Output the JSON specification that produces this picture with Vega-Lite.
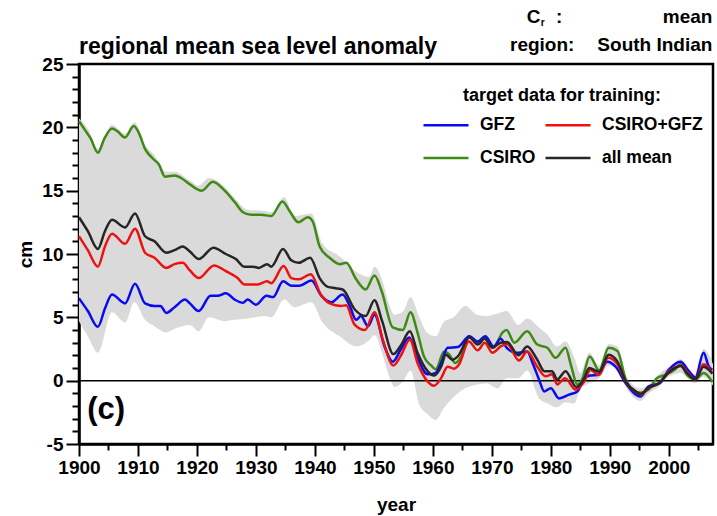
{
  "$schema": "https://vega.github.io/schema/vega-lite/v6.json",
  "width": 634,
  "height": 380,
  "autosize": {"type": "none"},
  "padding": {"left": 79, "top": 64, "right": 4, "bottom": 72},
  "background": "white",
  "config": {
    "font": "Liberation Sans",
    "view": {"stroke": "black", "strokeWidth": 2.5},
    "axis": {"domainColor": "black", "domainWidth": 2.5, "tickColor": "black", "tickWidth": 2, "labelColor": "black", "labelFontSize": 19, "labelFontWeight": "bold", "titleFontSize": 19, "titleFontWeight": "bold", "titleColor": "black", "grid": false, "labelFont": "Liberation Sans", "titleFont": "Liberation Sans", "labelOverlap": false}
  },
  "title": {"text": "regional mean sea level anomaly", "anchor": "start", "frame": "group", "fontSize": 23, "fontWeight": "bold", "color": "black", "font": "Liberation Sans", "baseline": "alphabetic", "offset": 12, "dy": 81},
  "resolve": {"axis": {"x": "independent", "y": "independent"}},
  "datasets": {
    "band": [
      {"year": 1900, "lo": 4.7, "hi": 20.7},
      {"year": 1901.5, "lo": 3.5, "hi": 19.9},
      {"year": 1903.2, "lo": 2.2, "hi": 18.3},
      {"year": 1905.6, "lo": 5.4, "hi": 20.2},
      {"year": 1907.8, "lo": 4.6, "hi": 19.5},
      {"year": 1909.4, "lo": 6.2, "hi": 20.4},
      {"year": 1911.2, "lo": 4.8, "hi": 18.6},
      {"year": 1912.8, "lo": 4.3, "hi": 17.8},
      {"year": 1914.8, "lo": 3.8, "hi": 16.5},
      {"year": 1916.2, "lo": 4.1, "hi": 16.5},
      {"year": 1918.8, "lo": 4.4, "hi": 15.8},
      {"year": 1920.3, "lo": 3.9, "hi": 15.4},
      {"year": 1922.0, "lo": 5.0, "hi": 16.0},
      {"year": 1924.7, "lo": 4.7, "hi": 15.3},
      {"year": 1926.4, "lo": 4.8, "hi": 14.4},
      {"year": 1928.6, "lo": 4.9, "hi": 13.5},
      {"year": 1931.5, "lo": 5.1, "hi": 13.4},
      {"year": 1932.6, "lo": 5.0, "hi": 13.3},
      {"year": 1934.8, "lo": 6.4, "hi": 14.5},
      {"year": 1936.5, "lo": 5.8, "hi": 13.0},
      {"year": 1939.4, "lo": 6.2, "hi": 13.2},
      {"year": 1941.3, "lo": 4.6, "hi": 10.8},
      {"year": 1944.2, "lo": 3.5, "hi": 9.8},
      {"year": 1947.0, "lo": 2.7, "hi": 8.6},
      {"year": 1949.2, "lo": 3.2, "hi": 8.2},
      {"year": 1950.1, "lo": 3.6, "hi": 9.0},
      {"year": 1951.5, "lo": 2.0, "hi": 7.8},
      {"year": 1952.6, "lo": 0.35, "hi": 6.0},
      {"year": 1953.5, "lo": -0.5, "hi": 5.2},
      {"year": 1955.0, "lo": 0.0, "hi": 5.5},
      {"year": 1956.2, "lo": 0.8, "hi": 6.6},
      {"year": 1957.7, "lo": -1.9, "hi": 5.0},
      {"year": 1959.0, "lo": -2.6, "hi": 3.8},
      {"year": 1960.5, "lo": -3.1, "hi": 3.5},
      {"year": 1961.8, "lo": -2.2, "hi": 4.6},
      {"year": 1963.5, "lo": -1.3, "hi": 5.0},
      {"year": 1965.5, "lo": -0.6, "hi": 5.9},
      {"year": 1967.5, "lo": -0.3, "hi": 5.2},
      {"year": 1969.0, "lo": -0.2, "hi": 5.1},
      {"year": 1971.0, "lo": -0.6, "hi": 5.3},
      {"year": 1972.5, "lo": 0.2, "hi": 5.5},
      {"year": 1974.5, "lo": 0.2, "hi": 4.4},
      {"year": 1976.0, "lo": 0.8, "hi": 4.9},
      {"year": 1978.0, "lo": -1.4, "hi": 4.2},
      {"year": 1979.5, "lo": -1.8, "hi": 3.6},
      {"year": 1981.0, "lo": -2.1, "hi": 2.7},
      {"year": 1982.5, "lo": -1.7, "hi": 3.1},
      {"year": 1984.0, "lo": -1.8, "hi": 1.8},
      {"year": 1985.0, "lo": -0.6, "hi": 0.6},
      {"year": 1986.5, "lo": -0.2, "hi": 2.2},
      {"year": 1988.2, "lo": 0.2, "hi": 1.2},
      {"year": 1989.8, "lo": 1.2, "hi": 2.9},
      {"year": 1991.3, "lo": 0.8, "hi": 2.7},
      {"year": 1992.7, "lo": -0.5, "hi": 0.4},
      {"year": 1995.2, "lo": -1.6, "hi": -0.6},
      {"year": 1996.6, "lo": -1.0, "hi": -0.3},
      {"year": 1998.3, "lo": -0.5, "hi": 0.5},
      {"year": 2000.0, "lo": 0.3, "hi": 1.1},
      {"year": 2002.0, "lo": 0.6, "hi": 1.7},
      {"year": 2003.4, "lo": 0.1, "hi": 1.0},
      {"year": 2004.5, "lo": -0.2, "hi": 0.5},
      {"year": 2005.9, "lo": 0.3, "hi": 2.5},
      {"year": 2007.5, "lo": -0.4, "hi": 1.3}
    ],
    "lines": [
      {"series": "CSIRO", "year": 1900.0, "cm": 20.5},
      {"series": "CSIRO", "year": 1901.0, "cm": 19.8},
      {"series": "CSIRO", "year": 1902.0, "cm": 19.1},
      {"series": "CSIRO", "year": 1903.2, "cm": 18.0},
      {"series": "CSIRO", "year": 1904.3, "cm": 19.1},
      {"series": "CSIRO", "year": 1905.6, "cm": 19.9},
      {"series": "CSIRO", "year": 1906.5, "cm": 19.7},
      {"series": "CSIRO", "year": 1907.8, "cm": 19.2},
      {"series": "CSIRO", "year": 1909.3, "cm": 20.1},
      {"series": "CSIRO", "year": 1910.2, "cm": 19.5},
      {"series": "CSIRO", "year": 1911.2, "cm": 18.3},
      {"series": "CSIRO", "year": 1912.6, "cm": 17.5},
      {"series": "CSIRO", "year": 1913.5, "cm": 17.1},
      {"series": "CSIRO", "year": 1914.6, "cm": 16.1},
      {"series": "CSIRO", "year": 1916.2, "cm": 16.2},
      {"series": "CSIRO", "year": 1917.3, "cm": 16.0},
      {"series": "CSIRO", "year": 1918.8, "cm": 15.5},
      {"series": "CSIRO", "year": 1920.8, "cm": 15.0},
      {"series": "CSIRO", "year": 1922.7, "cm": 15.7},
      {"series": "CSIRO", "year": 1924.7, "cm": 15.0},
      {"series": "CSIRO", "year": 1926.4, "cm": 14.1},
      {"series": "CSIRO", "year": 1927.8, "cm": 13.3},
      {"series": "CSIRO", "year": 1929.2, "cm": 13.1},
      {"series": "CSIRO", "year": 1930.9, "cm": 13.1},
      {"series": "CSIRO", "year": 1932.6, "cm": 13.0},
      {"series": "CSIRO", "year": 1934.5, "cm": 14.15},
      {"series": "CSIRO", "year": 1935.7, "cm": 13.4},
      {"series": "CSIRO", "year": 1937.2, "cm": 12.5},
      {"series": "CSIRO", "year": 1938.8, "cm": 12.9},
      {"series": "CSIRO", "year": 1939.6, "cm": 12.6},
      {"series": "CSIRO", "year": 1940.8, "cm": 10.6},
      {"series": "CSIRO", "year": 1942.5, "cm": 9.7},
      {"series": "CSIRO", "year": 1944.2, "cm": 9.2},
      {"series": "CSIRO", "year": 1945.3, "cm": 9.3},
      {"series": "CSIRO", "year": 1947.0, "cm": 8.0},
      {"series": "CSIRO", "year": 1948.6, "cm": 7.2},
      {"series": "CSIRO", "year": 1950.1, "cm": 8.3},
      {"series": "CSIRO", "year": 1951.3, "cm": 7.1},
      {"series": "CSIRO", "year": 1953.2, "cm": 4.2},
      {"series": "CSIRO", "year": 1954.9, "cm": 4.0},
      {"series": "CSIRO", "year": 1956.2, "cm": 5.4},
      {"series": "CSIRO", "year": 1957.4, "cm": 3.8},
      {"series": "CSIRO", "year": 1958.5, "cm": 1.9},
      {"series": "CSIRO", "year": 1959.7, "cm": 1.2},
      {"series": "CSIRO", "year": 1960.5, "cm": 0.9},
      {"series": "CSIRO", "year": 1961.9, "cm": 2.3},
      {"series": "CSIRO", "year": 1962.8, "cm": 2.05},
      {"series": "CSIRO", "year": 1963.8, "cm": 1.4},
      {"series": "CSIRO", "year": 1964.8, "cm": 1.9},
      {"series": "CSIRO", "year": 1966.1, "cm": 3.5},
      {"series": "CSIRO", "year": 1967.6, "cm": 3.0},
      {"series": "CSIRO", "year": 1968.8, "cm": 3.45},
      {"series": "CSIRO", "year": 1970.3, "cm": 2.6},
      {"series": "CSIRO", "year": 1971.8, "cm": 3.8},
      {"series": "CSIRO", "year": 1972.5, "cm": 4.0},
      {"series": "CSIRO", "year": 1973.8, "cm": 3.0},
      {"series": "CSIRO", "year": 1976.0, "cm": 3.9},
      {"series": "CSIRO", "year": 1977.7, "cm": 2.85},
      {"series": "CSIRO", "year": 1979.4, "cm": 2.6},
      {"series": "CSIRO", "year": 1980.8, "cm": 1.8},
      {"series": "CSIRO", "year": 1982.5, "cm": 2.6},
      {"series": "CSIRO", "year": 1983.4, "cm": 1.25},
      {"series": "CSIRO", "year": 1984.5, "cm": -0.3},
      {"series": "CSIRO", "year": 1985.3, "cm": 0.1},
      {"series": "CSIRO", "year": 1986.6, "cm": 1.9},
      {"series": "CSIRO", "year": 1988.2, "cm": 0.8},
      {"series": "CSIRO", "year": 1989.8, "cm": 2.6},
      {"series": "CSIRO", "year": 1991.3, "cm": 2.35},
      {"series": "CSIRO", "year": 1992.7, "cm": 0.1},
      {"series": "CSIRO", "year": 1993.8, "cm": -0.7},
      {"series": "CSIRO", "year": 1995.2, "cm": -0.95},
      {"series": "CSIRO", "year": 1996.6, "cm": -0.7},
      {"series": "CSIRO", "year": 1998.0, "cm": 0.2},
      {"series": "CSIRO", "year": 1999.4, "cm": 0.45},
      {"series": "CSIRO", "year": 2001.1, "cm": 0.9},
      {"series": "CSIRO", "year": 2002.0, "cm": 1.3},
      {"series": "CSIRO", "year": 2003.1, "cm": 0.45},
      {"series": "CSIRO", "year": 2004.5, "cm": 0.1},
      {"series": "CSIRO", "year": 2005.9, "cm": 0.6},
      {"series": "CSIRO", "year": 2007.4, "cm": -0.1},

      {"series": "GFZ", "year": 1900.0, "cm": 6.5},
      {"series": "GFZ", "year": 1901.5, "cm": 5.5},
      {"series": "GFZ", "year": 1903.2, "cm": 4.25},
      {"series": "GFZ", "year": 1904.4, "cm": 5.7},
      {"series": "GFZ", "year": 1905.6, "cm": 6.8},
      {"series": "GFZ", "year": 1907.8, "cm": 6.1},
      {"series": "GFZ", "year": 1909.5, "cm": 7.65},
      {"series": "GFZ", "year": 1911.2, "cm": 6.1},
      {"series": "GFZ", "year": 1912.8, "cm": 5.9},
      {"series": "GFZ", "year": 1913.8, "cm": 5.9},
      {"series": "GFZ", "year": 1914.8, "cm": 5.35},
      {"series": "GFZ", "year": 1916.2, "cm": 5.8},
      {"series": "GFZ", "year": 1918.0, "cm": 6.4},
      {"series": "GFZ", "year": 1918.8, "cm": 6.1},
      {"series": "GFZ", "year": 1920.3, "cm": 5.5},
      {"series": "GFZ", "year": 1922.3, "cm": 6.7},
      {"series": "GFZ", "year": 1923.5, "cm": 6.7},
      {"series": "GFZ", "year": 1924.9, "cm": 6.9},
      {"series": "GFZ", "year": 1926.4, "cm": 6.4},
      {"series": "GFZ", "year": 1927.8, "cm": 6.15},
      {"series": "GFZ", "year": 1928.6, "cm": 6.4},
      {"series": "GFZ", "year": 1930.0, "cm": 6.0},
      {"series": "GFZ", "year": 1931.8, "cm": 6.7},
      {"series": "GFZ", "year": 1932.9, "cm": 6.6},
      {"series": "GFZ", "year": 1934.6, "cm": 7.85},
      {"series": "GFZ", "year": 1936.0, "cm": 7.5},
      {"series": "GFZ", "year": 1937.4, "cm": 7.5},
      {"series": "GFZ", "year": 1939.4, "cm": 7.9},
      {"series": "GFZ", "year": 1941.1, "cm": 6.7},
      {"series": "GFZ", "year": 1942.8, "cm": 6.2},
      {"series": "GFZ", "year": 1944.7, "cm": 6.8},
      {"series": "GFZ", "year": 1945.9, "cm": 5.9},
      {"series": "GFZ", "year": 1947.0, "cm": 4.8},
      {"series": "GFZ", "year": 1947.8, "cm": 5.1},
      {"series": "GFZ", "year": 1949.0, "cm": 4.3},
      {"series": "GFZ", "year": 1950.1, "cm": 5.2},
      {"series": "GFZ", "year": 1951.8, "cm": 2.7},
      {"series": "GFZ", "year": 1953.2, "cm": 1.5},
      {"series": "GFZ", "year": 1954.6, "cm": 2.5},
      {"series": "GFZ", "year": 1956.0, "cm": 3.4},
      {"series": "GFZ", "year": 1957.4, "cm": 1.8},
      {"series": "GFZ", "year": 1959.1, "cm": 0.5},
      {"series": "GFZ", "year": 1960.4, "cm": 0.6},
      {"series": "GFZ", "year": 1961.4, "cm": 1.4},
      {"series": "GFZ", "year": 1962.5, "cm": 2.6},
      {"series": "GFZ", "year": 1964.2, "cm": 2.65},
      {"series": "GFZ", "year": 1966.2, "cm": 3.5},
      {"series": "GFZ", "year": 1967.6, "cm": 3.1},
      {"series": "GFZ", "year": 1968.9, "cm": 3.5},
      {"series": "GFZ", "year": 1970.3, "cm": 2.7},
      {"series": "GFZ", "year": 1971.5, "cm": 3.3},
      {"series": "GFZ", "year": 1972.5, "cm": 2.6},
      {"series": "GFZ", "year": 1974.2, "cm": 2.2},
      {"series": "GFZ", "year": 1976.0, "cm": 2.3},
      {"series": "GFZ", "year": 1976.9, "cm": 1.4},
      {"series": "GFZ", "year": 1978.0, "cm": 0.1},
      {"series": "GFZ", "year": 1978.9, "cm": -0.85},
      {"series": "GFZ", "year": 1980.0, "cm": -0.6},
      {"series": "GFZ", "year": 1981.4, "cm": -1.4},
      {"series": "GFZ", "year": 1983.1, "cm": -1.1},
      {"series": "GFZ", "year": 1984.5, "cm": -0.85},
      {"series": "GFZ", "year": 1985.6, "cm": 0.1},
      {"series": "GFZ", "year": 1986.6, "cm": 0.4},
      {"series": "GFZ", "year": 1987.9, "cm": 0.45},
      {"series": "GFZ", "year": 1989.6, "cm": 1.5},
      {"series": "GFZ", "year": 1991.0, "cm": 1.1},
      {"series": "GFZ", "year": 1992.7, "cm": -0.2},
      {"series": "GFZ", "year": 1995.2, "cm": -1.25},
      {"series": "GFZ", "year": 1996.6, "cm": -0.45},
      {"series": "GFZ", "year": 1998.5, "cm": -0.2},
      {"series": "GFZ", "year": 2000.0, "cm": 0.85},
      {"series": "GFZ", "year": 2002.0, "cm": 1.5},
      {"series": "GFZ", "year": 2003.4, "cm": 0.75},
      {"series": "GFZ", "year": 2004.5, "cm": 0.25},
      {"series": "GFZ", "year": 2005.9, "cm": 2.2},
      {"series": "GFZ", "year": 2006.8, "cm": 1.1},
      {"series": "GFZ", "year": 2007.4, "cm": 0.85},

      {"series": "CSIRO+GFZ", "year": 1900.0, "cm": 11.4},
      {"series": "CSIRO+GFZ", "year": 1901.5, "cm": 10.3},
      {"series": "CSIRO+GFZ", "year": 1903.2, "cm": 9.0},
      {"series": "CSIRO+GFZ", "year": 1904.4, "cm": 10.6},
      {"series": "CSIRO+GFZ", "year": 1905.6, "cm": 11.6},
      {"series": "CSIRO+GFZ", "year": 1907.8, "cm": 10.8},
      {"series": "CSIRO+GFZ", "year": 1909.5, "cm": 12.0},
      {"series": "CSIRO+GFZ", "year": 1911.2, "cm": 10.1},
      {"series": "CSIRO+GFZ", "year": 1912.8, "cm": 9.7},
      {"series": "CSIRO+GFZ", "year": 1914.8, "cm": 8.9},
      {"series": "CSIRO+GFZ", "year": 1916.2, "cm": 9.2},
      {"series": "CSIRO+GFZ", "year": 1917.6, "cm": 9.3},
      {"series": "CSIRO+GFZ", "year": 1918.8, "cm": 8.7},
      {"series": "CSIRO+GFZ", "year": 1920.3, "cm": 8.1},
      {"series": "CSIRO+GFZ", "year": 1922.9, "cm": 9.1},
      {"series": "CSIRO+GFZ", "year": 1924.9, "cm": 8.65},
      {"series": "CSIRO+GFZ", "year": 1926.9, "cm": 8.1},
      {"series": "CSIRO+GFZ", "year": 1928.0, "cm": 7.6},
      {"series": "CSIRO+GFZ", "year": 1930.3, "cm": 7.6},
      {"series": "CSIRO+GFZ", "year": 1931.9, "cm": 7.85},
      {"series": "CSIRO+GFZ", "year": 1932.6, "cm": 7.7},
      {"series": "CSIRO+GFZ", "year": 1934.7, "cm": 9.05},
      {"series": "CSIRO+GFZ", "year": 1936.0, "cm": 8.1},
      {"series": "CSIRO+GFZ", "year": 1937.3, "cm": 8.0},
      {"series": "CSIRO+GFZ", "year": 1939.3, "cm": 8.4},
      {"series": "CSIRO+GFZ", "year": 1941.0, "cm": 6.8},
      {"series": "CSIRO+GFZ", "year": 1942.5, "cm": 6.1},
      {"series": "CSIRO+GFZ", "year": 1944.4, "cm": 5.9},
      {"series": "CSIRO+GFZ", "year": 1945.3, "cm": 5.95},
      {"series": "CSIRO+GFZ", "year": 1946.7, "cm": 4.45},
      {"series": "CSIRO+GFZ", "year": 1948.5, "cm": 4.0},
      {"series": "CSIRO+GFZ", "year": 1950.1, "cm": 5.4},
      {"series": "CSIRO+GFZ", "year": 1951.5, "cm": 3.25},
      {"series": "CSIRO+GFZ", "year": 1953.3, "cm": 1.2},
      {"series": "CSIRO+GFZ", "year": 1954.6, "cm": 2.0},
      {"series": "CSIRO+GFZ", "year": 1956.1, "cm": 3.25},
      {"series": "CSIRO+GFZ", "year": 1957.4, "cm": 1.4},
      {"series": "CSIRO+GFZ", "year": 1959.1, "cm": -0.05},
      {"series": "CSIRO+GFZ", "year": 1960.2, "cm": -0.4},
      {"series": "CSIRO+GFZ", "year": 1961.4, "cm": 0.2},
      {"series": "CSIRO+GFZ", "year": 1962.5, "cm": 1.1},
      {"series": "CSIRO+GFZ", "year": 1963.6, "cm": 0.95},
      {"series": "CSIRO+GFZ", "year": 1964.4, "cm": 1.25},
      {"series": "CSIRO+GFZ", "year": 1966.1, "cm": 3.1},
      {"series": "CSIRO+GFZ", "year": 1967.6, "cm": 2.4},
      {"series": "CSIRO+GFZ", "year": 1968.8, "cm": 3.0},
      {"series": "CSIRO+GFZ", "year": 1970.1, "cm": 2.2},
      {"series": "CSIRO+GFZ", "year": 1971.5, "cm": 2.7},
      {"series": "CSIRO+GFZ", "year": 1972.6, "cm": 2.9},
      {"series": "CSIRO+GFZ", "year": 1974.6, "cm": 1.6},
      {"series": "CSIRO+GFZ", "year": 1976.0, "cm": 2.3},
      {"series": "CSIRO+GFZ", "year": 1977.7, "cm": 1.1},
      {"series": "CSIRO+GFZ", "year": 1979.1, "cm": 0.35},
      {"series": "CSIRO+GFZ", "year": 1980.2, "cm": 0.5},
      {"series": "CSIRO+GFZ", "year": 1981.1, "cm": -0.3},
      {"series": "CSIRO+GFZ", "year": 1982.4, "cm": 0.2},
      {"series": "CSIRO+GFZ", "year": 1984.2, "cm": -0.7},
      {"series": "CSIRO+GFZ", "year": 1985.6, "cm": -0.1},
      {"series": "CSIRO+GFZ", "year": 1986.7, "cm": 0.85},
      {"series": "CSIRO+GFZ", "year": 1988.2, "cm": 0.45},
      {"series": "CSIRO+GFZ", "year": 1989.7, "cm": 1.8},
      {"series": "CSIRO+GFZ", "year": 1991.3, "cm": 1.3},
      {"series": "CSIRO+GFZ", "year": 1992.7, "cm": -0.1},
      {"series": "CSIRO+GFZ", "year": 1994.4, "cm": -0.9},
      {"series": "CSIRO+GFZ", "year": 1995.2, "cm": -1.1},
      {"series": "CSIRO+GFZ", "year": 1996.6, "cm": -0.6},
      {"series": "CSIRO+GFZ", "year": 1998.3, "cm": -0.2},
      {"series": "CSIRO+GFZ", "year": 2000.0, "cm": 0.7},
      {"series": "CSIRO+GFZ", "year": 2002.0, "cm": 1.2},
      {"series": "CSIRO+GFZ", "year": 2003.2, "cm": 0.65},
      {"series": "CSIRO+GFZ", "year": 2004.5, "cm": 0.1},
      {"series": "CSIRO+GFZ", "year": 2005.9, "cm": 1.3},
      {"series": "CSIRO+GFZ", "year": 2007.4, "cm": 0.6},

      {"series": "all mean", "year": 1900.0, "cm": 12.9},
      {"series": "all mean", "year": 1901.5, "cm": 11.8},
      {"series": "all mean", "year": 1903.2, "cm": 10.4},
      {"series": "all mean", "year": 1904.4, "cm": 11.8},
      {"series": "all mean", "year": 1905.6, "cm": 12.7},
      {"series": "all mean", "year": 1907.8, "cm": 12.1},
      {"series": "all mean", "year": 1909.5, "cm": 13.2},
      {"series": "all mean", "year": 1911.2, "cm": 11.4},
      {"series": "all mean", "year": 1912.8, "cm": 11.0},
      {"series": "all mean", "year": 1914.8, "cm": 10.1},
      {"series": "all mean", "year": 1916.2, "cm": 10.3},
      {"series": "all mean", "year": 1917.6, "cm": 10.6},
      {"series": "all mean", "year": 1918.8, "cm": 10.2},
      {"series": "all mean", "year": 1920.3, "cm": 9.6},
      {"series": "all mean", "year": 1922.8, "cm": 10.5},
      {"series": "all mean", "year": 1924.9, "cm": 10.0},
      {"series": "all mean", "year": 1926.6, "cm": 9.6},
      {"series": "all mean", "year": 1928.0, "cm": 9.0},
      {"series": "all mean", "year": 1929.5, "cm": 9.0},
      {"series": "all mean", "year": 1930.5, "cm": 8.9},
      {"series": "all mean", "year": 1931.9, "cm": 9.2},
      {"series": "all mean", "year": 1932.6, "cm": 9.0},
      {"series": "all mean", "year": 1934.6, "cm": 10.4},
      {"series": "all mean", "year": 1936.0, "cm": 9.5},
      {"series": "all mean", "year": 1937.2, "cm": 9.3},
      {"series": "all mean", "year": 1939.2, "cm": 9.7},
      {"series": "all mean", "year": 1940.8, "cm": 8.1},
      {"series": "all mean", "year": 1942.2, "cm": 7.4},
      {"series": "all mean", "year": 1943.5, "cm": 7.3},
      {"series": "all mean", "year": 1944.7, "cm": 7.2},
      {"series": "all mean", "year": 1946.8, "cm": 5.6},
      {"series": "all mean", "year": 1948.6, "cm": 5.1},
      {"series": "all mean", "year": 1950.1, "cm": 6.35},
      {"series": "all mean", "year": 1951.4, "cm": 4.7},
      {"series": "all mean", "year": 1953.3, "cm": 2.1},
      {"series": "all mean", "year": 1954.6, "cm": 2.8},
      {"series": "all mean", "year": 1956.1, "cm": 3.9},
      {"series": "all mean", "year": 1957.4, "cm": 2.2},
      {"series": "all mean", "year": 1959.1, "cm": 0.75},
      {"series": "all mean", "year": 1960.2, "cm": 0.4},
      {"series": "all mean", "year": 1961.4, "cm": 1.1},
      {"series": "all mean", "year": 1962.2, "cm": 2.05},
      {"series": "all mean", "year": 1963.3, "cm": 1.65},
      {"series": "all mean", "year": 1964.2, "cm": 1.9},
      {"series": "all mean", "year": 1966.2, "cm": 3.4},
      {"series": "all mean", "year": 1967.6, "cm": 2.85},
      {"series": "all mean", "year": 1968.8, "cm": 3.3},
      {"series": "all mean", "year": 1970.1, "cm": 2.6},
      {"series": "all mean", "year": 1971.5, "cm": 3.0},
      {"series": "all mean", "year": 1972.6, "cm": 3.05},
      {"series": "all mean", "year": 1974.5, "cm": 2.0},
      {"series": "all mean", "year": 1976.0, "cm": 2.7},
      {"series": "all mean", "year": 1977.7, "cm": 1.65},
      {"series": "all mean", "year": 1978.9, "cm": 0.75},
      {"series": "all mean", "year": 1980.2, "cm": 0.75},
      {"series": "all mean", "year": 1981.1, "cm": 0.1},
      {"series": "all mean", "year": 1982.5, "cm": 0.75},
      {"series": "all mean", "year": 1984.3, "cm": -0.5},
      {"series": "all mean", "year": 1985.6, "cm": 0.1},
      {"series": "all mean", "year": 1986.5, "cm": 1.0},
      {"series": "all mean", "year": 1988.2, "cm": 0.7},
      {"series": "all mean", "year": 1989.8, "cm": 2.05},
      {"series": "all mean", "year": 1991.3, "cm": 1.5},
      {"series": "all mean", "year": 1992.7, "cm": -0.05},
      {"series": "all mean", "year": 1994.4, "cm": -0.85},
      {"series": "all mean", "year": 1995.2, "cm": -1.05},
      {"series": "all mean", "year": 1996.6, "cm": -0.55},
      {"series": "all mean", "year": 1998.3, "cm": -0.2},
      {"series": "all mean", "year": 2000.0, "cm": 0.65},
      {"series": "all mean", "year": 2002.0, "cm": 1.15},
      {"series": "all mean", "year": 2003.1, "cm": 0.6},
      {"series": "all mean", "year": 2004.5, "cm": 0.1},
      {"series": "all mean", "year": 2005.9, "cm": 1.1},
      {"series": "all mean", "year": 2007.4, "cm": 0.55}
    ],
    "notes": [{"cr": "C", "sub": "r", "colon": ":", "crval": "mean", "reg": "region:", "regval": "South Indian", "panel": "(c)"}]
  },
  "layer": [
    {
      "data": {"name": "band"},
      "mark": {"type": "area", "color": "#dadada", "interpolate": "monotone"},
      "encoding": {
        "x": {"field": "year", "type": "quantitative",
          "scale": {"domain": [1900, 2007.5], "nice": false, "zero": false},
          "axis": {"title": "year", "orient": "bottom", "values": [1900,1910,1920,1930,1940,1950,1960,1970,1980,1990,2000],
            "labelExpr": "'' + datum.value", "tickSize": 12,
            "labelPadding": 2, "titlePadding": 18, "labelFlush": false}},
        "y": {"field": "lo", "type": "quantitative",
          "scale": {"domain": [-5, 25], "nice": false, "zero": false},
          "axis": {"title": "cm", "orient": "left", "values": [-5, 0, 5, 10, 15, 20, 25],
            "labelExpr": "'' + datum.value", "tickSize": 13,
            "labelPadding": 3, "titlePadding": 6, "labelFlush": false}},
        "y2": {"field": "hi"}
      }
    },
    {
      "data": {"name": "notes"},
      "mark": {"type": "rule", "color": "black", "strokeWidth": 1.5},
      "encoding": {
        "y": {"datum": 0, "type": "quantitative",
          "axis": {"orient": "left", "title": null, "labels": false, "domain": false, "tickSize": 7,
            "values": [-4,-3,-2,-1,1,2,3,4,6,7,8,9,11,12,13,14,16,17,18,19,21,22,23,24]}}
      }
    },
    {
      "data": {"name": "lines"},
      "mark": {"type": "line", "interpolate": "monotone"},
      "encoding": {
        "x": {"field": "year", "type": "quantitative",
          "axis": {"orient": "bottom", "title": null, "labels": false, "domain": false, "tickSize": 6,
            "values": [1905,1915,1925,1935,1945,1955,1965,1975,1985,1995,2005]}},
        "y": {"field": "cm", "type": "quantitative", "axis": null},
        "color": {"field": "series", "type": "nominal",
          "scale": {"domain": ["GFZ", "CSIRO", "CSIRO+GFZ", "all mean"], "range": ["#0a0af0", "#3f8a14", "#ee1111", "#262626"]},
          "legend": {"title": "target data for training:", "orient": "none", "legendX": 343, "legendY": 23, "columns": 2,
            "titleFontSize": 18, "titleFontWeight": "bold", "titleColor": "black", "titleAnchor": "middle", "titlePadding": -4, "titleLimit": 400,
            "labelFontSize": 17.5, "labelFontWeight": "bold", "labelColor": "black", "labelOffset": 10, "labelLimit": 300,
            "symbolType": "stroke", "symbolSize": 2025, "symbolStrokeWidth": 2.6, "rowPadding": -30, "columnPadding": 4, "padding": 0}},
        "strokeWidth": {"field": "series", "type": "nominal",
          "scale": {"domain": ["GFZ", "CSIRO", "CSIRO+GFZ", "all mean"], "range": [2.5, 2.5, 2.5, 3.4]}, "legend": null}
      }
    },
    {
      "data": {"name": "notes"},
      "mark": {"type": "text", "fontSize": 19, "fontWeight": "bold", "align": "right", "baseline": "alphabetic", "color": "black", "clip": false},
      "encoding": {"text": {"field": "regval"}, "x": {"datum": 2007.4, "axis": null}, "y": {"datum": 26.0, "axis": null}}
    },
    {
      "data": {"name": "notes"},
      "mark": {"type": "text", "fontSize": 19, "fontWeight": "bold", "align": "right", "baseline": "alphabetic", "color": "black", "clip": false},
      "encoding": {"text": {"field": "reg"}, "x": {"datum": 1984.0, "axis": null}, "y": {"datum": 26.0, "axis": null}}
    },
    {
      "data": {"name": "notes"},
      "mark": {"type": "text", "fontSize": 19, "fontWeight": "bold", "align": "right", "baseline": "alphabetic", "color": "black", "clip": false},
      "encoding": {"text": {"field": "crval"}, "x": {"datum": 2007.4, "axis": null}, "y": {"datum": 28.2, "axis": null}}
    },
    {
      "data": {"name": "notes"},
      "mark": {"type": "text", "fontSize": 19, "fontWeight": "bold", "align": "left", "baseline": "alphabetic", "color": "black", "clip": false},
      "encoding": {"text": {"field": "cr"}, "x": {"datum": 1975.9, "axis": null}, "y": {"datum": 28.2, "axis": null}}
    },
    {
      "data": {"name": "notes"},
      "mark": {"type": "text", "fontSize": 10, "fontWeight": "bold", "align": "left", "baseline": "alphabetic", "color": "black", "clip": false, "dy": 3},
      "encoding": {"text": {"field": "sub"}, "x": {"datum": 1978.3, "axis": null}, "y": {"datum": 28.2, "axis": null}}
    },
    {
      "data": {"name": "notes"},
      "mark": {"type": "text", "fontSize": 19, "fontWeight": "bold", "align": "left", "baseline": "alphabetic", "color": "black", "clip": false},
      "encoding": {"text": {"field": "colon"}, "x": {"datum": 1980.9, "axis": null}, "y": {"datum": 28.2, "axis": null}}
    },
    {
      "data": {"name": "notes"},
      "mark": {"type": "text", "fontSize": 31, "fontWeight": "bold", "align": "left", "baseline": "middle", "color": "black"},
      "encoding": {"text": {"field": "panel"}, "x": {"datum": 1901.4, "axis": null}, "y": {"datum": -2.3, "axis": null}}
    }
  ]
}
